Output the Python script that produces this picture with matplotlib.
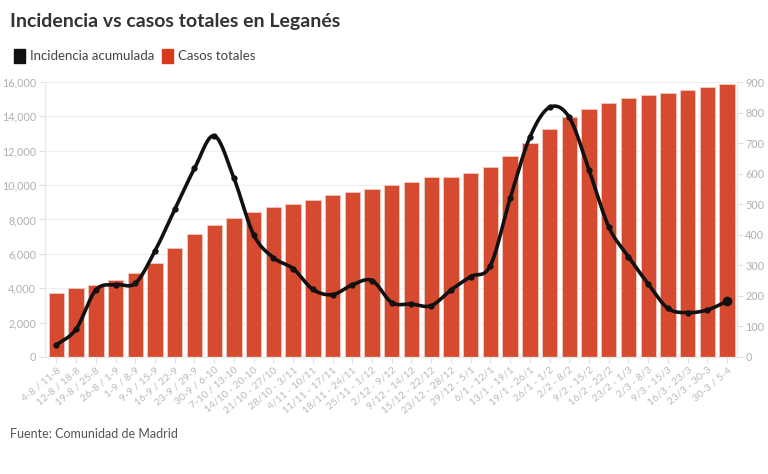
import numpy as np
import matplotlib.pyplot as plt
from matplotlib.patches import Patch

# weekly periods
semanas = [
    "4-8 / 11-8", "12-8 / 18-8", "19-8 / 25-8", "26-8 / 1-9", "1-9 / 8-9",
    "9-9 / 15-9", "16-9 / 22-9", "23-9 / 29-9", "30-9 / 6-10", "7-10 / 13-10",
    "14/10 - 20-10", "21/10 - 27/10", "28/10 - 3/11", "4/11 - 10/11", "11/11 - 17/11",
    "18/11 - 24/11", "25/11 - 1/12", "2/12 - 9/12", "9/12 - 14/12", "15/12 - 22/12",
    "23/12 - 28/12", "29/12 - 5/1", "6/1 - 12/1", "13/1 - 19/1", "19/1 - 26/1",
    "26/1 - 1/2", "2/2 - 8/2", "9/2 - 15/2", "16/2 - 22/2", "23/2 - 1/3",
    "2/3 - 8/3", "9/3 - 15/3", "16/3 - 23/3", "23/3 - 30-3", "30-3 / 5-4",
]

casos_totales = [
    3720, 4000, 4180, 4500, 4890, 5450, 6340, 7170, 7680, 8070,
    8420, 8710, 8900, 9130, 9410, 9620, 9790, 9980, 10180, 10470,
    10470, 10700, 11050, 11690, 12450, 13260, 13960, 14430, 14780, 15070,
    15260, 15380, 15530, 15690, 15900,
]

incidencia = [
    39, 91, 219, 237, 241, 347, 483, 617, 724, 585,
    400, 325, 289, 221, 204, 236, 250, 178, 173, 168,
    219, 263, 299, 519, 719, 817, 784, 612, 426, 328,
    239, 159, 145, 154, 182,
]

ROJO = "#d64b30"
GRIS = "#b0b0b0"


def catmull_rom(x, y, n=20):
    # smooth curve through the points (rendering only)
    x = np.asarray(x, float)
    y = np.asarray(y, float)
    px = np.concatenate([[2 * x[0] - x[1]], x, [2 * x[-1] - x[-2]]])
    py = np.concatenate([[2 * y[0] - y[1]], y, [2 * y[-1] - y[-2]]])
    xs, ys = [], []
    t = np.linspace(0, 1, n, endpoint=False)
    for i in range(1, len(px) - 2):
        for arr, out in ((px, xs), (py, ys)):
            p0, p1, p2, p3 = arr[i - 1], arr[i], arr[i + 1], arr[i + 2]
            out.extend(0.5 * (2 * p1 + (-p0 + p2) * t
                              + (2 * p0 - 5 * p1 + 4 * p2 - p3) * t ** 2
                              + (-p0 + 3 * p1 - 3 * p2 + p3) * t ** 3))
    xs.append(x[-1])
    ys.append(y[-1])
    return np.array(xs), np.array(ys)


plt.rcParams["font.family"] = ["Lato", "DejaVu Sans"]

fig = plt.figure(figsize=(7.68, 4.74), dpi=100)
ax = fig.add_axes([0.058, 0.247, 0.9016, 0.58])
ax2 = ax.twinx()

x = np.arange(len(semanas))
ax.bar(x, casos_totales, width=0.78, color=ROJO, edgecolor="#f3c9bf", linewidth=0.6, zorder=2)

ax.set_ylim(0, 16000)
ax.set_yticks(range(0, 16001, 2000))
ax.set_yticklabels([f"{v:,}" if v else "0" for v in range(0, 16001, 2000)])
ax.set_xlim(-0.6, len(semanas) - 0.5)
ax.set_xticks(x)
ax.set_xticklabels(semanas, rotation=40, ha="right", rotation_mode="anchor")
ax.grid(axis="y", color="#eeeeee", linewidth=0.8, zorder=0)
ax.set_axisbelow(True)

sx, sy = catmull_rom(x, incidencia)
ax2.plot(sx, sy, color="#111111", linewidth=2.6, zorder=5, solid_capstyle="round")
ax2.plot(x, incidencia, "o", color="#111111", markersize=3.5, zorder=6)
ax2.plot(x[-1], incidencia[-1], "o", color="#111111", markersize=6, zorder=6)
ax2.set_ylim(0, 900)
ax2.set_yticks(range(0, 901, 100))

for a in (ax, ax2):
    for s in a.spines.values():
        s.set_color("#e8e8e8")
    a.spines["top"].set_visible(False)
    a.tick_params(colors="#e0e0e0", labelcolor=GRIS, labelsize=7.8, length=4, pad=2)
ax.tick_params(axis="x", labelsize=7.5, labelcolor="#bbbbbb", pad=2)

fig.text(0.013, 0.955, "Incidencia vs casos totales en Leganés", fontsize=14,
         fontweight="bold", color="#333333", va="center")
fig.legend(handles=[Patch(color="#111111", label="Incidencia acumulada"),
                    Patch(color="#d8391d", label="Casos totales")],
           loc="center left", bbox_to_anchor=(0.003, 0.882), ncol=2, frameon=False,
           fontsize=9.5, labelcolor="#444444", handlelength=0.8, handleheight=1.3,
           handletextpad=0.4, columnspacing=0.6)
fig.text(0.013, 0.085, "Fuente: Comunidad de Madrid", fontsize=9, color="#555555", va="center")

fig.savefig("out.png", dpi=100)
